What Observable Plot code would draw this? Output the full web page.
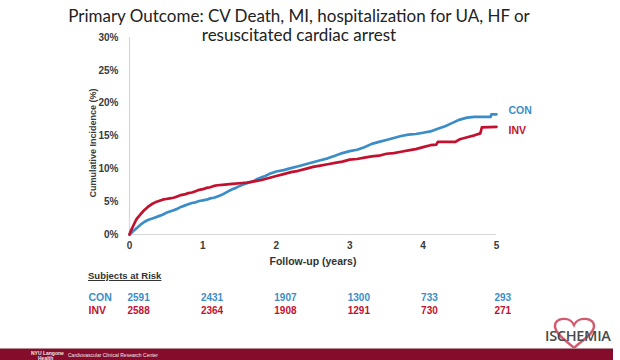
<!DOCTYPE html>
<html>
<head>
<meta charset="utf-8">
<script src="https://cdn.jsdelivr.net/npm/d3@7"></script>
<script src="https://cdn.jsdelivr.net/npm/@observablehq/plot@0.6"></script>
<style>
  html, body { margin: 0; padding: 0; background: #fff; }
  #wrap { position: relative; width: 620px; height: 360px; overflow: hidden; background: #fff; }
  #chart { position: absolute; left: 0; top: 0; }
  .title { position: absolute; left: 0; width: 598px; text-align: center; font-family: Lato, "Open Sans", sans-serif; font-size: 17px; color: #222; line-height: 17px; white-space: nowrap; }
  .risk { position: absolute; left: 88px; top: 270px; font-family: "Liberation Sans", Arial, sans-serif; font-weight: bold; font-size: 9.5px; color: #333; text-decoration: underline; }
  .logo { position: absolute; left: 543px; top: 314px; width: 76px; height: 36px; }
  .logo svg { position: absolute; left: 0; top: 0; }
  .logo .name { position: absolute; left: 2px; top: 14px; font-family: "Open Sans", sans-serif; font-weight: 600; font-size: 14.5px; color: #4a4a4a; letter-spacing: -0.3px; line-height: 16px; }
  .footer { position: absolute; left: 0; top: 348px; width: 613px; height: 12px; background: #850d2b; border-top: 1px solid #b88a95; }
  .footer span { position: absolute; color: #f3e6e9; font-family: "Liberation Sans", Arial, sans-serif; font-size: 5px; white-space: nowrap; }
</style>
</head>
<body>
<div id="wrap">
  <div id="chart"></div>
  <div class="title" style="top:7px">Primary Outcome: CV Death, MI, hospitalization for UA, HF or</div>
  <div class="title" style="top:26px">resuscitated cardiac arrest</div>
  <div class="risk">Subjects at Risk</div>
  <div class="logo">
    <svg width="76" height="36" viewBox="0 0 76 36"><path d="M31 11 C27 2, 11 3, 12 13 C13 21, 24 27, 31 34 C38 27, 50 21, 51 13 C52 3, 35 2, 31 11 Z" fill="none" stroke="#c8324a" stroke-width="2.4" opacity="0.8"/></svg>
    <span class="name">ISCHEMIA</span>
  </div>
  <div class="footer">
    <span style="left:31px; top:1px; font-weight:bold">NYU Langone</span>
    <span style="left:38px; top:6px; font-weight:bold">Health</span>
    <span style="left:68px; top:3px">Cardiovascular Clinical Research Center</span>
  </div>
</div>
<script>
// ---- data ----
const conTime = [0, 0.03, 0.06, 0.1, 0.15, 0.2, 0.25, 0.3, 0.35, 0.4, 0.45, 0.5, 0.55, 0.6, 0.65, 0.7, 0.75, 0.8, 0.85, 0.9, 0.95, 1.0, 1.05, 1.1, 1.15, 1.2, 1.25, 1.3, 1.35, 1.4, 1.45, 1.5, 1.55, 1.6, 1.65, 1.7, 1.75, 1.8, 1.85, 1.9, 1.95, 2.0, 2.1, 2.2, 2.3, 2.4, 2.5, 2.6, 2.7, 2.8, 2.9, 3.0, 3.1, 3.2, 3.3, 3.4, 3.5, 3.6, 3.7, 3.8, 3.9, 4.0, 4.1, 4.2, 4.3, 4.4, 4.5, 4.6, 4.7, 4.8, 4.92, 4.93, 5.0];
const conInc  = [0, 0.3, 0.6, 1.0, 1.5, 1.9, 2.2, 2.4, 2.6, 2.8, 3.0, 3.3, 3.5, 3.7, 3.9, 4.2, 4.4, 4.6, 4.8, 4.9, 5.1, 5.2, 5.3, 5.5, 5.6, 5.8, 6.0, 6.3, 6.6, 6.9, 7.1, 7.4, 7.6, 7.8, 8.0, 8.2, 8.5, 8.7, 8.9, 9.2, 9.4, 9.6, 9.8, 10.1, 10.4, 10.7, 11.0, 11.3, 11.6, 12.0, 12.4, 12.7, 12.9, 13.3, 13.8, 14.1, 14.4, 14.7, 15.0, 15.2, 15.3, 15.5, 15.7, 16.1, 16.5, 17.0, 17.5, 17.8, 17.9, 17.9, 17.9, 18.3, 18.3];
const invTime = [0, 0.02, 0.05, 0.08, 0.1, 0.13, 0.16, 0.2, 0.25, 0.3, 0.35, 0.4, 0.45, 0.5, 0.55, 0.6, 0.65, 0.7, 0.75, 0.8, 0.85, 0.9, 0.95, 1.0, 1.05, 1.1, 1.15, 1.2, 1.3, 1.4, 1.5, 1.6, 1.7, 1.8, 1.9, 2.0, 2.1, 2.2, 2.3, 2.4, 2.5, 2.6, 2.7, 2.8, 2.9, 3.0, 3.1, 3.2, 3.3, 3.4, 3.5, 3.6, 3.7, 3.8, 3.9, 4.0, 4.1, 4.18, 4.2, 4.3, 4.44, 4.5, 4.6, 4.7, 4.78, 4.8, 5.0];
const invInc  = [0, 0.6, 1.3, 2.0, 2.4, 2.8, 3.2, 3.7, 4.2, 4.6, 4.9, 5.1, 5.3, 5.4, 5.5, 5.6, 5.8, 6.0, 6.1, 6.3, 6.4, 6.6, 6.8, 6.9, 7.1, 7.2, 7.4, 7.5, 7.6, 7.7, 7.8, 7.9, 8.1, 8.3, 8.6, 8.9, 9.2, 9.5, 9.7, 10.0, 10.3, 10.5, 10.7, 10.9, 11.1, 11.4, 11.5, 11.7, 11.9, 12.0, 12.3, 12.4, 12.6, 12.8, 13.0, 13.3, 13.6, 13.7, 14.1, 14.1, 14.1, 14.5, 14.8, 15.1, 15.4, 16.3, 16.4];
const years = [0, 1, 2, 3, 4, 5];
const conAtRisk = [2591, 2431, 1907, 1300, 733, 293];
const invAtRisk = [2588, 2364, 1908, 1291, 730, 271];
const yTicks = [0, 5, 10, 15, 20, 25, 30];
const groups = ["CON", "INV"];

const blue = "#3b8dc8";
const red = "#c2112f";

const con = conTime.map((t, i) => ({t, v: conInc[i]}));
const inv = invTime.map((t, i) => ({t, v: invInc[i]}));
const conRisk = years.map((y, i) => ({y, n: conAtRisk[i]}));
const invRisk = years.map((y, i) => ({y, n: invAtRisk[i]}));

const font = "'Liberation Sans', Arial, sans-serif";

const chart = Plot.plot({
  width: 620,
  height: 360,
  marginLeft: 129,
  marginRight: 124,
  marginTop: 37,
  marginBottom: 126,
  x: {domain: [0, 5]},
  y: {domain: [0, 30]},
  style: {fontFamily: font, background: "transparent", overflow: "visible"},
  marks: [
    Plot.ruleY([0], {stroke: "#d6d6d6", strokeWidth: 1.2}),
    Plot.ruleX([0], {stroke: "#d6d6d6", strokeWidth: 1.2}),
    Plot.axisY({ticks: yTicks, tickSize: 0, tickPadding: 11, tickFormat: d => d + "%", fontWeight: "bold", fontSize: 10, color: "#3a3a3a", label: null}),
    Plot.axisX({ticks: years, tickSize: 0, tickPadding: 7, tickFormat: d => String(d), fontWeight: "bold", fontSize: 10, color: "#3a3a3a", label: null}),
    Plot.text(["Cumulative Incidence (%)"], {frameAnchor: "left", textAnchor: "middle", rotate: -90, dx: -36, dy: 7, text: d => d, fontWeight: "bold", fontSize: 9, fill: "#3a3a3a"}),
    Plot.text(["Follow-up (years)"], {frameAnchor: "bottom", dy: 30, text: d => d, fontWeight: "bold", fontSize: 10.5, fill: "#333"}),
    Plot.line(con, {x: "t", y: "v", curve: "linear", stroke: blue, strokeWidth: 2.7}),
    Plot.line(inv, {x: "t", y: "v", curve: "linear", stroke: red, strokeWidth: 2.7}),
    Plot.text(con.slice(-1), {x: "t", y: "v", text: () => groups[0], dx: 12, dy: -4, textAnchor: "start", fill: blue, fontWeight: "bold", fontSize: 10.5}),
    Plot.text(inv.slice(-1), {x: "t", y: "v", text: () => groups[1], dx: 12, dy: 4, textAnchor: "start", fill: red, fontWeight: "bold", fontSize: 10.5}),
    Plot.text([groups[0]], {frameAnchor: "bottom-left", dx: -41, dy: 66, text: d => d, textAnchor: "start", fill: blue, fontWeight: "bold", fontSize: 10.5}),
    Plot.text([groups[1]], {frameAnchor: "bottom-left", dx: -41, dy: 79, text: d => d, textAnchor: "start", fill: red, fontWeight: "bold", fontSize: 10.5}),
    Plot.text(conRisk, {x: "y", frameAnchor: "bottom", dy: 66, dx: -2, text: d => String(d.n), textAnchor: "start", fill: blue, fontWeight: "bold", fontSize: 10}),
    Plot.text(invRisk, {x: "y", frameAnchor: "bottom", dy: 79, dx: -2, text: d => String(d.n), textAnchor: "start", fill: red, fontWeight: "bold", fontSize: 10})
  ]
});
document.getElementById("chart").appendChild(chart);
</script>
</body>
</html>
